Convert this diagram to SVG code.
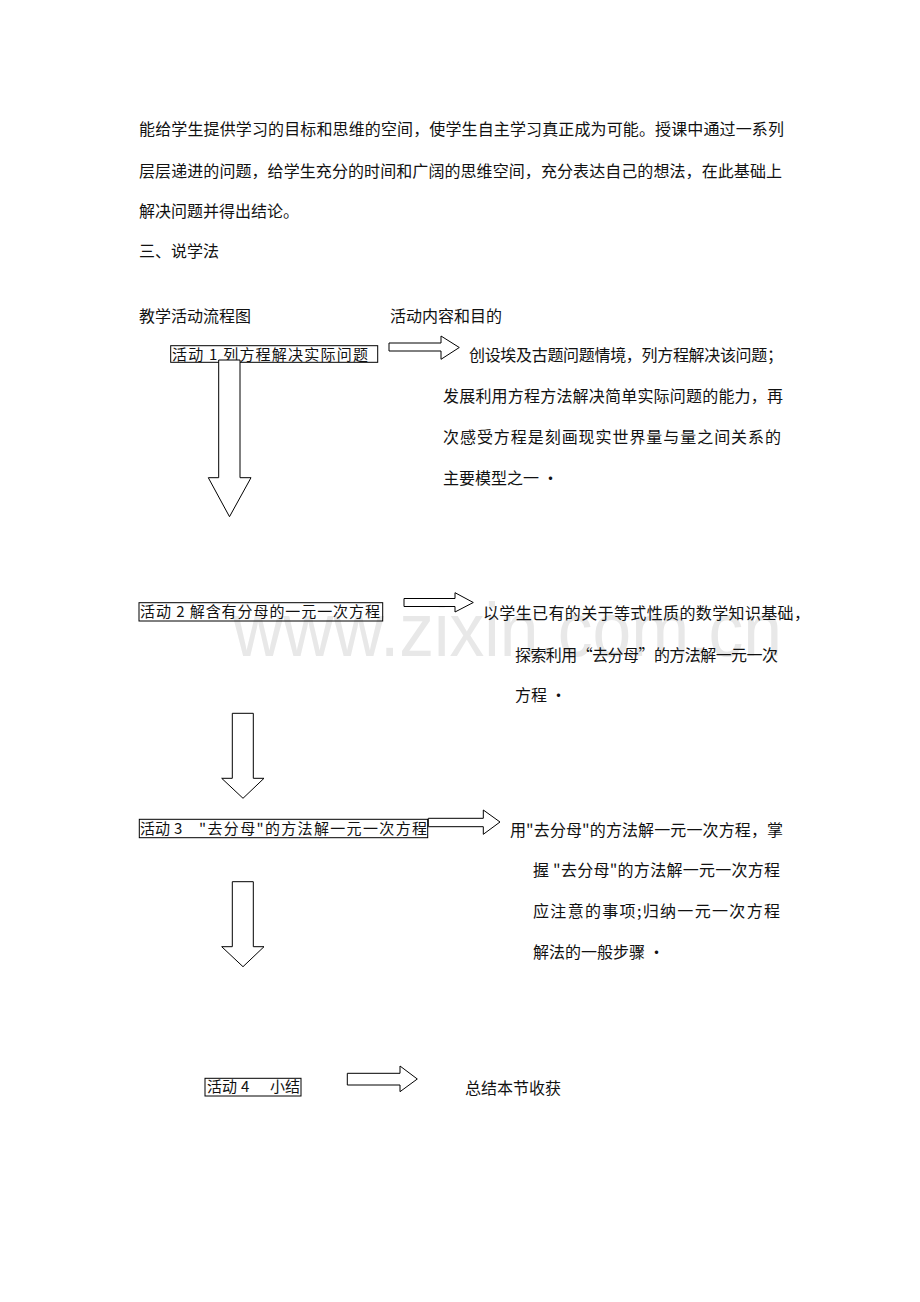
<svg xmlns="http://www.w3.org/2000/svg" width="920" height="1302" viewBox="0 0 920 1302">
<style>
text{font-family:"Noto Sans CJK SC","Liberation Serif",serif;fill:#111;}
.b{font-size:16px;}
.s{font-size:15px;}
.box{fill:none;stroke:#000;stroke-width:1;}
.arr{fill:#fff;stroke:#000;stroke-width:1;stroke-linejoin:miter;}
.wm{font-family:"Liberation Sans",Arial,sans-serif;font-size:76px;fill:#e8e8e8;}
</style>
<rect width="920" height="1302" fill="#fff"/>
<text class="wm" x="233" y="656" textLength="549" lengthAdjust="spacingAndGlyphs">www.zixin.com.cn</text>
<g id="intro">
<text class="b" x="139" y="135" textLength="645" lengthAdjust="spacing">能给学生提供学习的目标和思维的空间，使学生自主学习真正成为可能。授课中通过一系列</text>
<text class="b" x="139" y="177" textLength="643" lengthAdjust="spacing">层层递进的问题，给学生充分的时间和广阔的思维空间，充分表达自己的想法，在此基础上</text>
<text class="b" x="139" y="217">解决问题并得出结论。</text>
<text class="b" x="139" y="257">三、说学法</text>
<text class="b" x="139" y="322">教学活动流程图</text>
<text class="b" x="390" y="322">活动内容和目的</text>
</g>
<g id="node-activity1">
<rect class="box" x="170.7" y="345.7" width="207" height="16.6"/>
<text class="s" x="172" y="359.5" textLength="196" lengthAdjust="spacing">活动 1 列方程解决实际问题</text>
</g>
<g id="node-activity2">
<rect class="box" x="139" y="602.7" width="243.7" height="18.3"/>
<text class="s" x="140" y="617" textLength="240" lengthAdjust="spacing">活动 2 解含有分母的一元一次方程</text>
</g>
<g id="node-activity3">
<rect class="box" x="139.3" y="819.3" width="288.4" height="18.4"/>
<text class="s" y="833.5"><tspan x="140">活动</tspan><tspan x="174">3</tspan></text>
<text class="s" x="199" y="833.5" textLength="228" lengthAdjust="spacing">"去分母"的方法解一元一次方程</text>
</g>
<g id="node-activity4">
<rect class="box" x="205" y="1078.3" width="96" height="17.7"/>
<text class="s" y="1092"><tspan x="207">活动</tspan><tspan x="241">4</tspan><tspan x="270">小结</tspan></text>
</g>
<g id="node-content1">
<text class="b" x="469" y="361" textLength="314" lengthAdjust="spacing">创设埃及古题问题情境，列方程解决该问题；</text>
<text class="b" x="443" y="402" textLength="340" lengthAdjust="spacing">发展利用方程方法解决简单实际问题的能力，再</text>
<text class="b" x="443" y="443" textLength="338" lengthAdjust="spacing">次感受方程是刻画现实世界量与量之间关系的</text>
<text class="b" x="443" y="484">主要模型之一 •</text>
</g>
<g id="node-content2">
<text class="b" x="483" y="619" textLength="327" lengthAdjust="spacing">以学生已有的关于等式性质的数学知识基础，</text>
<text class="b" x="515" y="661" textLength="263" lengthAdjust="spacing">探索利用“去分母”的方法解一元一次</text>
<text class="b" x="515" y="701">方程 •</text>
</g>
<g id="node-content3">
<text class="b" x="510" y="836" textLength="273" lengthAdjust="spacing">用"去分母"的方法解一元一次方程，掌</text>
<text class="b" x="533" y="876" textLength="247" lengthAdjust="spacing">握 "去分母"的方法解一元一次方程</text>
<text class="b" x="533" y="917" textLength="247" lengthAdjust="spacing">应注意的事项;归纳一元一次方程</text>
<text class="b" x="533" y="958">解法的一般步骤 •</text>
</g>
<g id="node-content4">
<text class="b" x="465" y="1094">总结本节收获</text>
</g>
<g id="connectors">
<polygon class="arr" points="389,343 441,343 441,336 459.3,347.5 441,359.3 441,351 389,351"/>
<polygon class="arr" points="404,598.5 455,598.5 455,592.7 473.3,602.5 455,612 455,606.5 404,606.5"/>
<polygon class="arr" points="428.3,818.3 483.3,818.3 483.3,810 500,822 483.3,834.3 483.3,826.7 428.3,826.7"/>
<polygon class="arr" points="347.3,1073.3 400,1073.3 400,1066 417.3,1079 400,1091.7 400,1085 347.3,1085"/>
<polygon class="arr" points="218.7,360 240,360 240,477.7 251,477.7 229.5,516.7 208.3,477.7 218.7,477.7"/>
<polygon class="arr" points="232.3,713.3 253.3,713.3 253.3,778.3 264,778.3 243,798.3 221.7,778.3 232.3,778.3"/>
<polygon class="arr" points="232.3,881.7 253.3,881.7 253.3,946.7 264,946.7 243,966.7 221.7,946.7 232.3,946.7"/>
</g>
</svg>
